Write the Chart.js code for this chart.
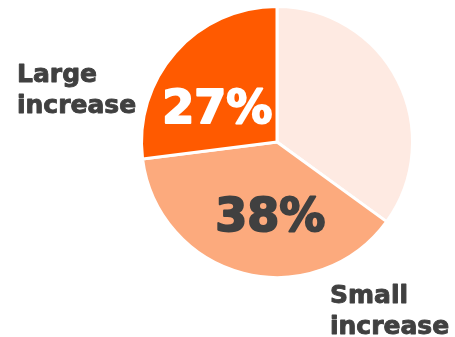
<!DOCTYPE html>
<html>
<head>
<meta charset="utf-8">
<script src="https://cdn.jsdelivr.net/npm/chart.js@4/dist/chart.umd.min.js"></script>
<style>
  html, body { margin: 0; padding: 0; background: #fff; }
  #wrap { width: 455px; height: 337px; position: relative; }
</style>
</head>
<body>
<div id="wrap"><canvas id="pieChart"></canvas></div>
<script>
// Share of answers, clockwise from 12 o'clock
const categories = ['No increase', 'Small increase', 'Large increase'];
const shares = [35, 38, 27];
const sliceColors = ['#FEEAE2', '#FCAA7D', '#FF5A00'];
const shareTextColors = ['#404040', '#404040', '#FFFFFF'];
const showShare = [false, true, true];

const FONT = '"DejaVu Sans", sans-serif';

// heavy text: fill plus a thin stroke in the same colour
function heavyText(ctx, text, x, y, color, width) {
  ctx.fillStyle = color;
  ctx.strokeStyle = color;
  ctx.lineWidth = width;
  ctx.lineJoin = 'round';
  ctx.strokeText(text, x, y);
  ctx.fillText(text, x, y);
}

// Draw percentages inside the slices and the two category labels outside
const sliceLabels = {
  id: 'sliceLabels',
  afterDatasetsDraw(chart) {
    const ctx = chart.ctx;
    const arcs = chart.getDatasetMeta(0).data;
    // text centre / baseline offsets from the pie centre, in radii
    const offs = [null, [-0.05, 0.655], [-0.44, -0.143]];

    ctx.save();
    ctx.textAlign = 'center';
    ctx.textBaseline = 'alphabetic';
    ctx.font = 'bold 46px ' + FONT;
    arcs.forEach((arc, i) => {
      if (!showShare[i]) return;
      const p = arc.getProps(['x', 'y', 'outerRadius'], true);
      heavyText(ctx, shares[i] + '%', p.x + offs[i][0] * p.outerRadius,
        p.y + offs[i][1] * p.outerRadius, shareTextColors[i], 2);
    });

    // outside labels
    const c = arcs[0].getProps(['x', 'y'], true);
    ctx.font = 'bold 25px ' + FONT;
    ctx.textAlign = 'left';
    heavyText(ctx, 'Large', c.x - 260, c.y - 60.5, '#404040', 0.9);
    heavyText(ctx, 'increase', c.x - 260, c.y - 29.5, '#404040', 0.9);
    heavyText(ctx, 'Small', c.x + 53, c.y + 160.5, '#404040', 0.9);
    heavyText(ctx, 'increase', c.x + 53, c.y + 191.5, '#404040', 0.9);
    ctx.restore();
  }
};

new Chart(document.getElementById('pieChart'), {
  type: 'pie',
  data: {
    labels: categories,
    datasets: [{
      data: shares,
      backgroundColor: sliceColors,
      borderColor: '#FFFFFF',
      borderWidth: 3
    }]
  },
  options: {
    responsive: true,
    maintainAspectRatio: false,
    animation: false,
    layout: { padding: { left: 139, right: 40, top: 5, bottom: 58 } },
    plugins: {
      legend: { display: false },
      tooltip: { enabled: false }
    }
  },
  plugins: [sliceLabels]
});
</script>
</body>
</html>
